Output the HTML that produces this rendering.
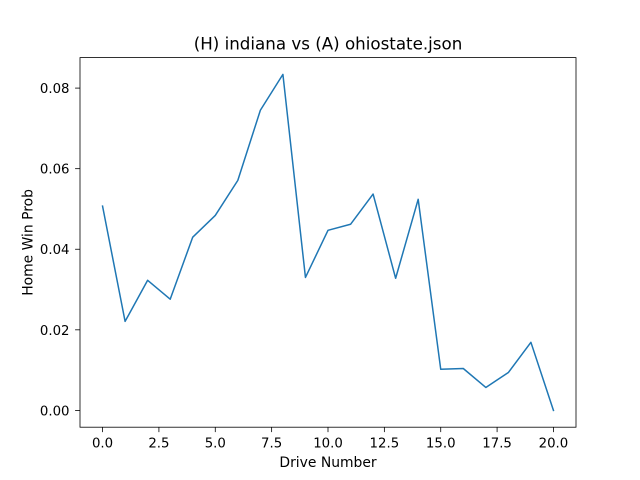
<!DOCTYPE html>
<html><head><meta charset="utf-8"><style>
html,body{margin:0;padding:0;background:#fff;}
svg{display:block;font-family:"DejaVu Sans","Liberation Sans",sans-serif;}
</style></head><body>
<svg id="chart" width="640" height="480" viewBox="0 0 640 480">
<rect width="640" height="480" fill="#fff"/>
<text x="328" y="49.5" font-size="16.7" text-anchor="middle">(H) indiana vs (A) ohiostate.json</text>
<g id="xt"></g>
<g id="yt"></g>
<path id="line" fill="none" stroke="#1f77b4" stroke-width="1.5" stroke-linejoin="round" stroke-linecap="square"/>
<rect x="80" y="57.6" width="496" height="369.6" fill="none" stroke="#000" stroke-width="0.8"/>
<text x="328" y="467" font-size="13.9" text-anchor="middle">Drive Number</text>
<text transform="translate(32.5,242.4) rotate(-90)" font-size="13.9" text-anchor="middle">Home Win Prob</text>
</svg>
<script>
const drives=[0,1,2,3,4,5,6,7,8,9,10,11,12,13,14,15,16,17,18,19,20];
const winProb=[0.0507,0.0221,0.0323,0.0276,0.0430,0.0484,0.0571,0.0745,0.0834,0.0330,0.0447,0.0462,0.0537,0.0328,0.0524,0.0102,0.0104,0.0057,0.0094,0.0169,0.0];
const xTicks=[0,2.5,5,7.5,10,12.5,15,17.5,20];
const xTickLabels=["0.0","2.5","5.0","7.5","10.0","12.5","15.0","17.5","20.0"];
const yTicks=[0,0.02,0.04,0.06,0.08];
const yTickLabels=["0.00","0.02","0.04","0.06","0.08"];
const L=80,R=576,T=57.6,B=427.2;
const xmin=Math.min(...drives),xmax=Math.max(...drives),xm=(xmax-xmin)*0.05;
const ymin=Math.min(...winProb),ymax=Math.max(...winProb),ym=(ymax-ymin)*0.05;
const X=v=>L+(v-(xmin-xm))/((xmax+xm)-(xmin-xm))*(R-L);
const Y=v=>B-(v-(ymin-ym))/((ymax+ym)-(ymin-ym))*(B-T);
const NS="http://www.w3.org/2000/svg";
const xt=document.getElementById('xt'),yt=document.getElementById('yt');
xTicks.forEach((t,i)=>{
  const l=document.createElementNS(NS,'line');
  l.setAttribute('x1',X(t));l.setAttribute('x2',X(t));l.setAttribute('y1',B);l.setAttribute('y2',B+4.9);
  l.setAttribute('stroke','#000');l.setAttribute('stroke-width','0.8');
  
  
  xt.appendChild(l);
  const s=document.createElementNS(NS,'text');
  s.setAttribute('x',X(t));s.setAttribute('y',B+20.5);s.setAttribute('font-size','13.3');s.setAttribute('text-anchor','middle');
  s.textContent=xTickLabels[i];
  
  
  xt.appendChild(s);
});
yTicks.forEach((t,i)=>{
  const l=document.createElementNS(NS,'line');
  l.setAttribute('x1',L-4.9);l.setAttribute('x2',L);l.setAttribute('y1',Y(t));l.setAttribute('y2',Y(t));
  l.setAttribute('stroke','#000');l.setAttribute('stroke-width','0.8');
  
  
  yt.appendChild(l);
  const s=document.createElementNS(NS,'text');
  s.setAttribute('x',L-10.5);s.setAttribute('y',Y(t)+5);s.setAttribute('font-size','13.3');s.setAttribute('text-anchor','end');
  s.textContent=yTickLabels[i];
  
  
  yt.appendChild(s);
});
document.getElementById('line').setAttribute('d',drives.map((d,i)=>(i?'L':'M')+X(d).toFixed(2)+' '+Y(winProb[i]).toFixed(2)).join(' '));
</script>
</body></html>
